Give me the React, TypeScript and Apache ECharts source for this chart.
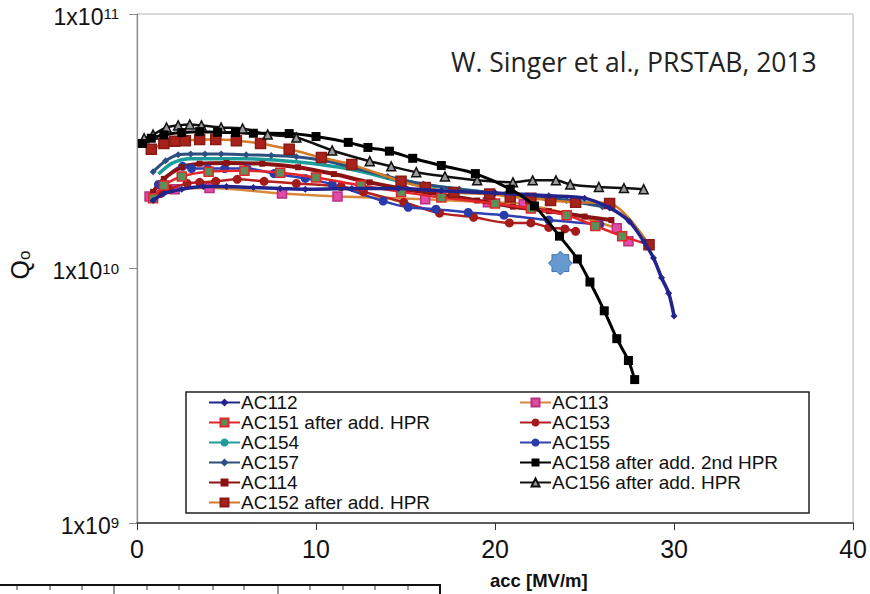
import React, { useEffect, useRef } from "react";
import * as echarts from "echarts";

// ---- data (acc [MV/m], Q0) ----
const X_TICKS = [0, 10, 20, 30, 40];
const Y_DECADES = [1e9, 1e10, 1e11];

const AC112 = [[0.9, 1.85e10], [1.5, 1.97e10], [2.5, 2.05e10], [3.7, 2.1e10], [5, 2.1e10], [6.5, 2.08e10], [8, 2.06e10], [9.4, 2.05e10], [12, 2.06e10], [14.6, 2.06e10], [17, 2.02e10], [20, 1.98e10], [23, 1.93e10], [25, 1.89e10], [26.4, 1.73e10], [27.5, 1.53e10], [28.3, 1.28e10], [28.85, 1.1e10], [29.3, 9.2e9], [29.7, 8.0e9], [30, 6.5e9]];
const AC113 = [[0.7, 1.92e10], [2.1, 2.05e10], [4.05, 2.07e10], [8.1, 1.97e10], [11.2, 1.92e10], [16.1, 1.87e10], [19.6, 1.82e10], [21.6, 1.79e10], [26.8, 1.44e10], [27.45, 1.28e10]];
const AC151 = [[0.9, 1.89e10], [1.5, 2.12e10], [2.5, 2.3e10], [4, 2.4e10], [6, 2.42e10], [8, 2.38e10], [10, 2.28e10], [12.5, 2.12e10], [14.75, 2.0e10], [17, 1.9e10], [20, 1.8e10], [22, 1.72e10], [24, 1.62e10], [25.6, 1.47e10], [27.1, 1.34e10], [28.6, 1.24e10]];
const AC153 = [[0.9, 1.9e10], [1.3, 1.97e10], [1.8, 2.05e10], [2.8, 2.16e10], [3.5, 2.18e10], [4.4, 2.2e10], [5.6, 2.24e10], [7.1, 2.2e10], [8.9, 2.16e10], [11.4, 2.1e10], [12.65, 2.0e10], [14.9, 1.82e10], [16.9, 1.65e10], [18.8, 1.59e10], [20.8, 1.51e10], [22, 1.51e10], [23, 1.45e10], [23.9, 1.43e10], [24.5, 1.4e10]];
const AC154 = [[1.2, 2.35e10], [2, 2.6e10], [3, 2.7e10], [6, 2.7e10], [9, 2.62e10], [12, 2.45e10], [15, 2.18e10], [18, 2.05e10], [20, 1.97e10], [23, 1.88e10], [25, 1.82e10], [26.5, 1.76e10]];
const AC155 = [[1.2, 2.14e10], [2.55, 2.52e10], [3.05, 2.47e10], [3.95, 2.47e10], [4.9, 2.47e10], [6.15, 2.47e10], [7.65, 2.36e10], [9.4, 2.26e10], [10.9, 2.14e10], [13.75, 1.84e10], [15.15, 1.74e10], [16.7, 1.71e10], [18.5, 1.66e10], [20.5, 1.62e10], [23, 1.55e10], [25.85, 1.49e10]];
const AC157 = [[0.9, 2.4e10], [1.6, 2.65e10], [2.3, 2.8e10], [3, 2.82e10], [3.8, 2.82e10], [4.7, 2.82e10], [6.1, 2.8e10], [7.5, 2.78e10], [8.9, 2.75e10], [10.5, 2.65e10], [12, 2.5e10], [14, 2.3e10], [16, 2.15e10], [18, 2.05e10], [20, 1.98e10], [22, 1.92e10], [24, 1.85e10], [26, 1.75e10]];
const AC158 = [[0.3, 3.1e10], [0.8, 3.25e10], [1.5, 3.35e10], [2.5, 3.42e10], [3.5, 3.45e10], [4.5, 3.43e10], [5.5, 3.42e10], [6.5, 3.4e10], [8.5, 3.39e10], [10, 3.3e10], [11.8, 3.13e10], [12.9, 2.99e10], [14.1, 2.89e10], [15.4, 2.71e10], [17, 2.54e10], [18.9, 2.36e10], [20.85, 2.05e10], [22.2, 1.76e10], [23.6, 1.34e10], [24.6, 1.09e10], [25.3, 8.85e9], [26.1, 6.82e9], [26.8, 5.3e9], [27.45, 4.35e9], [27.8, 3.66e9]];
const AC114 = [[0.9, 2.0e10], [1.5, 2.25e10], [2.5, 2.5e10], [3.5, 2.58e10], [5, 2.6e10], [7, 2.58e10], [9, 2.5e10], [11, 2.35e10], [13, 2.18e10], [15, 2.05e10], [17, 1.95e10], [19, 1.85e10], [21, 1.75e10], [23, 1.68e10], [25, 1.6e10], [26.5, 1.55e10]];
const AC156 = [[0.4, 3.25e10], [0.9, 3.36e10], [1.65, 3.58e10], [2.3, 3.65e10], [2.95, 3.68e10], [3.6, 3.65e10], [4.7, 3.58e10], [5.9, 3.55e10], [7.3, 3.36e10], [8.9, 3.27e10], [10.9, 2.91e10], [13, 2.64e10], [14.2, 2.52e10], [15.6, 2.39e10], [17.2, 2.3e10], [19, 2.22e10], [21, 2.18e10], [22.1, 2.22e10], [23.4, 2.22e10], [24.2, 2.14e10], [25.8, 2.09e10], [27.2, 2.07e10], [28.3, 2.05e10]];
const AC152 = [[0.8, 2.94e10], [1.5, 3.1e10], [2.1, 3.16e10], [2.7, 3.18e10], [3.5, 3.21e10], [4.4, 3.21e10], [5.55, 3.18e10], [6.9, 3.1e10], [8.5, 2.94e10], [10.3, 2.73e10], [12, 2.56e10], [14.75, 2.2e10], [16.1, 2.08e10], [17.7, 1.99e10], [19.7, 1.96e10], [20.85, 1.91e10], [22, 1.89e10], [23.1, 1.85e10], [24.5, 1.82e10], [26.4, 1.8e10], [28.6, 1.24e10]];
const STAR_POINT = [[23.65, 1.05e10]];

const LEGEND_COL1 = ["AC112", "AC151 after add. HPR", "AC154", "AC157", "AC114", "AC152 after add. HPR"];
const LEGEND_COL2 = ["AC113", "AC153", "AC155", "AC158 after add. 2nd HPR", "AC156 after add. HPR"];

function starPath(): string {
  let d = "path://";
  for (let i = 0; i < 16; i++) {
    const a = (i * Math.PI) / 8 - Math.PI / 2;
    const r = i % 2 === 0 ? 50 : 38;
    const x = 50 + r * Math.cos(a);
    const y = 50 + r * Math.sin(a);
    d += (i === 0 ? "M" : "L") + x.toFixed(2) + " " + y.toFixed(2);
  }
  return d + "Z";
}

type Spec = { name: string; data: number[][]; line: string; fill: string; border?: string; symbol: string; size: number; width: number; z: number };

const SPECS: Spec[] = [
  { name: "AC113", data: AC113, line: "#d9883a", fill: "#e24aa8", border: "#b8307f", symbol: "rect", size: 9, width: 2.5, z: 2 },
  { name: "AC153", data: AC153, line: "#b3201f", fill: "#a51a1a", symbol: "circle", size: 9, width: 2.5, z: 3 },
  { name: "AC155", data: AC155, line: "#2e3fb3", fill: "#2a3aa8", symbol: "circle", size: 9, width: 2.5, z: 3 },
  { name: "AC154", data: AC154, line: "#1c9c9a", fill: "#1c9c9a", symbol: "none", size: 0, width: 3.5, z: 2 },
  { name: "AC157", data: AC157, line: "#2b4f7e", fill: "#2b4f7e", symbol: "diamond", size: 7, width: 3, z: 3 },
  { name: "AC114", data: AC114, line: "#8b1212", fill: "#8b1212", symbol: "rect", size: 6, width: 4, z: 3 },
  { name: "AC151 after add. HPR", data: AC151, line: "#e3262c", fill: "#5d8f59", border: "#e3262c", symbol: "rect", size: 9, width: 2.5, z: 4 },
  { name: "AC112", data: AC112, line: "#23238c", fill: "#23238c", symbol: "diamond", size: 7, width: 3.5, z: 5 },
  { name: "AC152 after add. HPR", data: AC152, line: "#d27a28", fill: "#a8221c", border: "#8a1a14", symbol: "rect", size: 10, width: 2.5, z: 4 },
  { name: "AC156 after add. HPR", data: AC156, line: "#111111", fill: "#9a9a9a", border: "#111111", symbol: "triangle", size: 9, width: 2.5, z: 6 },
  { name: "AC158 after add. 2nd HPR", data: AC158, line: "#000000", fill: "#000000", symbol: "rect", size: 9, width: 3, z: 6 },
];

const SANS = "Liberation Sans";

export default function App() {
  const ref = useRef<HTMLDivElement>(null);
  useEffect(() => {
    if (!ref.current) return;
    const chart = echarts.init(ref.current, null, { renderer: "svg" });

    const series: any[] = SPECS.map((s) => ({
      type: "line",
      name: s.name,
      data: s.data,
      smooth: 0.3,
      symbol: s.symbol,
      symbolSize: s.size,
      showSymbol: s.symbol !== "none",
      z: s.z,
      lineStyle: { color: s.line, width: s.width },
      itemStyle: { color: s.fill, borderColor: s.border || s.fill, borderWidth: s.border ? 1.5 : 0 },
      emphasis: { disabled: true },
    }));
    series.push({
      type: "scatter",
      name: "star",
      data: STAR_POINT,
      symbol: starPath(),
      symbolSize: 24,
      z: 7,
      itemStyle: { color: "#3f7fc4", borderColor: "#2a5f9e", borderWidth: 1 },
    });

    const legendCommon = {
      orient: "vertical",
      itemWidth: 31,
      itemHeight: 10,
      itemGap: 1,
      textStyle: { fontFamily: SANS, fontSize: 19, color: "#111", lineHeight: 19, padding: [0, 0, 0, -4] },
      padding: 0,
      selectedMode: false,
    };

    const tickGraphics: any[] = [];
    const artTicks = [17, 50, 82, 114, 147, 179, 213, 244, 278, 310, 343, 375, 408];
    artTicks.forEach((tx, i) => {
      const long = i === 3 || i === 8;
      tickGraphics.push({ type: "line", shape: { x1: tx, y1: 586, x2: tx, y2: long ? 594 : 590 }, style: { stroke: "#333", lineWidth: 1 } });
    });

    chart.setOption({
      animation: false,
      backgroundColor: "#ffffff",
      grid: { left: 137, right: 12, top: 12, bottom: 71, show: true, borderColor: "#b4b4b4", borderWidth: 1 },
      xAxis: {
        type: "value",
        min: X_TICKS[0],
        max: X_TICKS[X_TICKS.length - 1],
        interval: 10,
        axisLine: { lineStyle: { color: "#333", width: 1.5 } },
        axisTick: { show: true, length: 7, inside: false, lineStyle: { color: "#333" } },
        splitLine: { show: false },
        axisLabel: { margin: 13, fontFamily: SANS, fontSize: 25, color: "#111" },
      },
      yAxis: {
        type: "log",
        logBase: 10,
        min: Y_DECADES[0],
        max: Y_DECADES[Y_DECADES.length - 1],
        axisLine: { show: true, lineStyle: { color: "#8a8a8a", width: 1.2 } },
        axisTick: { show: true, length: 8, lineStyle: { color: "#8a8a8a" } },
        splitLine: { show: false },
        minorTick: { show: false },
        axisLabel: {
          margin: 18,
          formatter: (v: number) => `{b|1x10}{s|${Math.round(Math.log10(v))}}`,
          rich: {
            b: { fontFamily: SANS, fontSize: 23, color: "#111", lineHeight: 26, padding: [5, 0, 0, 0] },
            s: { fontFamily: SANS, fontSize: 15, color: "#111", verticalAlign: "top", lineHeight: 26, padding: [5, 0, 0, 0] },
          },
        },
      },
      legend: [
        { ...legendCommon, left: 208, top: 393, data: LEGEND_COL1 },
        { ...legendCommon, left: 519, top: 393, data: LEGEND_COL2 },
      ],
      graphic: [
        { type: "rect", shape: { x: 186, y: 392, width: 623, height: 121 }, style: { fill: "rgba(255,255,255,0)", stroke: "#222", lineWidth: 1.5 }, z: 1 },
        { type: "text", x: 451, y: 62, style: { text: "W. Singer et al., PRSTAB, 2013", fontFamily: "Open Sans", fontSize: 26.5, fill: "#222", textVerticalAlign: "middle" } },
        {
          type: "text", x: 20, y: 265, rotation: Math.PI / 2,
          style: {
            text: "{q|Q}{o|o}", textAlign: "center", textVerticalAlign: "middle",
            rich: { q: { fontFamily: SANS, fontSize: 25, fill: "#111", lineHeight: 26 }, o: { fontFamily: SANS, fontSize: 17, fill: "#111", verticalAlign: "bottom", lineHeight: 26 } },
          },
        },
        { type: "text", x: 490, y: 580, style: { text: "acc [MV/m]", fontFamily: SANS, fontWeight: "bold", fontSize: 18.5, fill: "#111", textVerticalAlign: "middle" } },
        { type: "line", shape: { x1: 0, y1: 585, x2: 440, y2: 585 }, style: { stroke: "#111", lineWidth: 2 } },
        { type: "line", shape: { x1: 440, y1: 584, x2: 440, y2: 594 }, style: { stroke: "#111", lineWidth: 2 } },
        ...tickGraphics,
      ],
      series,
    });
    return () => chart.dispose();
  }, []);
  return <div ref={ref} style={{ width: 870, height: 594, position: "absolute", left: 0, top: 0 }} />;
}
